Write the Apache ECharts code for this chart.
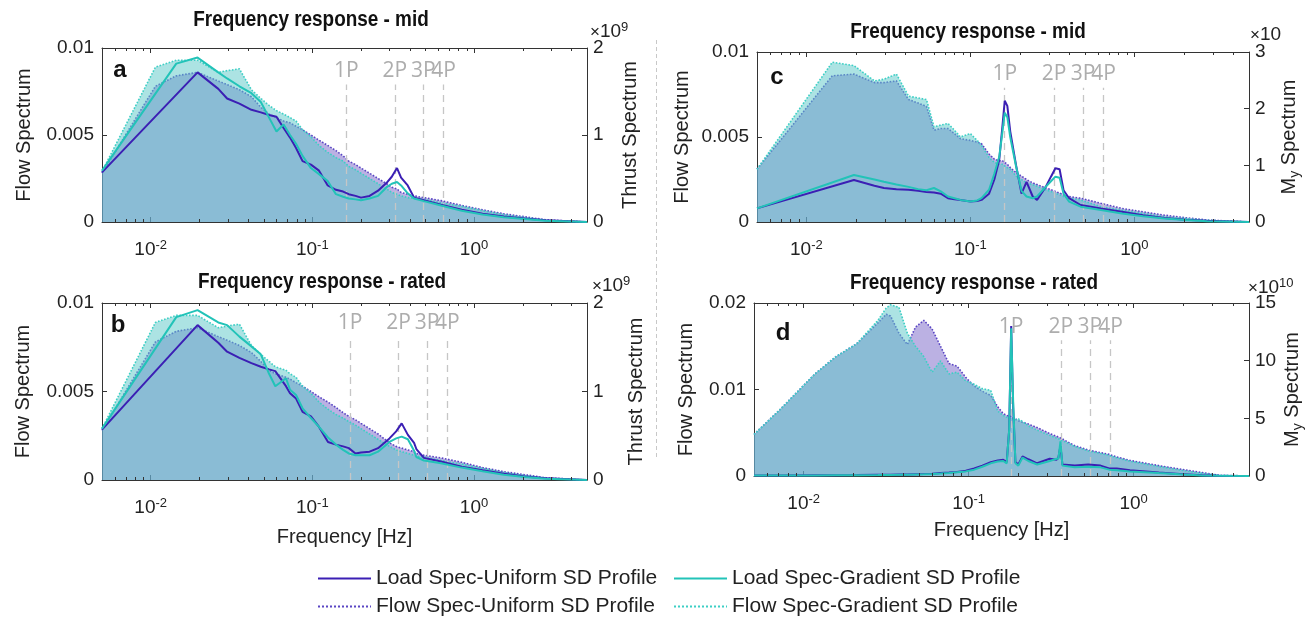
<!DOCTYPE html>
<html><head><meta charset="utf-8">
<script src="https://cdn.jsdelivr.net/npm/echarts@6/dist/echarts.min.js"></script>
<style>html,body{margin:0;padding:0;background:#fff}#c{width:1314px;height:620px}</style>
</head><body><div id="c"></div>
<script>
// ---------------- data ----------------
const FREQ_A = [0.005, 0.0107, 0.0144, 0.0195, 0.0262, 0.0297, 0.0354, 0.042, 0.048, 0.054, 0.06, 0.0664, 0.0728, 0.0793, 0.087, 0.098, 0.11, 0.1245, 0.14, 0.155, 0.168, 0.185, 0.2, 0.226, 0.255, 0.288, 0.31, 0.334, 0.354, 0.389, 0.426, 0.49, 0.625, 0.84, 1.13, 1.53, 2.06, 2.78, 5];
const A_LOAD_UNI  = [0.57, null, null, 1.72, 1.53, 1.42, 1.36, 1.29, 1.26, 1.23, 1.21, 1.08, 0.97, 0.85, 0.70, 0.66, 0.59, 0.42, 0.37, 0.35, 0.32, 0.30, 0.28, 0.30, 0.36, 0.45, 0.52, 0.62, 0.51, 0.42, 0.28, 0.25, 0.20, 0.14, 0.094, 0.064, 0.04, 0.02, 0];
const A_LOAD_GRAD = [0.59, null, 1.82, 1.89, 1.72, 1.65, 1.56, 1.48, 1.38, 1.2, 1.04, 1.12, 1.0, 0.90, 0.76, 0.62, 0.55, 0.47, 0.32, 0.29, 0.27, 0.26, 0.25, 0.27, 0.30, 0.40, 0.44, 0.46, 0.42, 0.33, 0.27, 0.24, 0.19, 0.13, 0.085, 0.055, 0.035, 0.015, 0];
const A_FLOW_UNI  = [0.0028, 0.0078, 0.0084, 0.0086, 0.0081, 0.0079, 0.0076, 0.0072, 0.0066, 0.0062, 0.0060, 0.0058, 0.0057, 0.0055, 0.0053, 0.0050, 0.0047, 0.0044, 0.0041, 0.0038, 0.0035, 0.0033, 0.0031, 0.0028, 0.0025, 0.0022, 0.0020, 0.0019, 0.0017, 0.0016, 0.0015, 0.0014, 0.00123, 0.00095, 0.0007, 0.00047, 0.0003, 0.00013, 0];
const A_FLOW_GRAD = [0.0029, 0.0089, 0.0093, 0.0093, 0.0086, 0.0087, 0.0088, 0.0076, 0.0071, 0.0067, 0.0064, 0.0062, 0.0060, 0.0058, 0.0053, 0.0049, 0.0044, 0.0040, 0.0037, 0.0035, 0.0032, 0.0030, 0.0028, 0.0025, 0.0022, 0.0019, 0.0017, 0.0016, 0.0015, 0.0014, 0.00135, 0.0013, 0.0011, 0.0009, 0.00065, 0.00042, 0.00025, 0.0001, 0];

const FREQ_B = [0.005, 0.0107, 0.0144, 0.0195, 0.0262, 0.0297, 0.0354, 0.042, 0.048, 0.054, 0.059, 0.0687, 0.0728, 0.0793, 0.087, 0.098, 0.11, 0.125, 0.14, 0.155, 0.168, 0.185, 0.2, 0.226, 0.255, 0.3, 0.33, 0.357, 0.39, 0.426, 0.44, 0.49, 0.625, 0.84, 1.13, 1.53, 2.06, 2.78, 5];
const B_LOAD_UNI  = [0.57, null, null, 1.75, 1.55, 1.45, 1.38, 1.32, 1.28, 1.25, 1.23, 1.06, 0.98, 0.92, 0.77, 0.72, 0.60, 0.43, 0.40, 0.38, 0.36, 0.30, 0.31, 0.32, 0.36, 0.47, 0.55, 0.64, 0.51, 0.42, 0.35, 0.25, 0.21, 0.15, 0.11, 0.07, 0.04, 0.02, 0];
const B_LOAD_GRAD = [0.58, null, 1.84, 1.92, 1.78, 1.75, 1.62, 1.51, 1.42, 1.2, 1.06, 1.15, 1.02, 0.96, 0.81, 0.70, 0.60, 0.48, 0.40, 0.34, 0.30, 0.28, 0.28, 0.28, 0.32, 0.43, 0.47, 0.49, 0.46, 0.33, 0.26, 0.22, 0.19, 0.14, 0.10, 0.06, 0.035, 0.015, 0];
const B_FLOW_UNI  = [0.0028, 0.0078, 0.0084, 0.0086, 0.0081, 0.0079, 0.0076, 0.0072, 0.0067, 0.0062, 0.0060, 0.0058, 0.0057, 0.0055, 0.0053, 0.0050, 0.0047, 0.0044, 0.0041, 0.0038, 0.0036, 0.0034, 0.0032, 0.0029, 0.0026, 0.0021, 0.0019, 0.0018, 0.0017, 0.0016, 0.0015, 0.0014, 0.00125, 0.001, 0.0007, 0.00047, 0.0003, 0.00013, 0];
const B_FLOW_GRAD = [0.0029, 0.0089, 0.0093, 0.0093, 0.0086, 0.0087, 0.0088, 0.0076, 0.0071, 0.0067, 0.0064, 0.0062, 0.0060, 0.0058, 0.0053, 0.0049, 0.0044, 0.0040, 0.0037, 0.0035, 0.0033, 0.0031, 0.0029, 0.0026, 0.0023, 0.0019, 0.0017, 0.0016, 0.0015, 0.0014, 0.00135, 0.0013, 0.0011, 0.0009, 0.00065, 0.00042, 0.00025, 0.0001, 0];

const FREQ_C = [0.005, 0.0144, 0.0195, 0.026, 0.0297, 0.0354, 0.042, 0.048, 0.054, 0.06, 0.066, 0.073, 0.08, 0.087, 0.1, 0.11, 0.117, 0.13, 0.14, 0.15, 0.157, 0.162, 0.168, 0.175, 0.19, 0.205, 0.22, 0.24, 0.255, 0.288, 0.31, 0.33, 0.35, 0.37, 0.4, 0.47, 0.625, 0.84, 1.13, 1.53, 2.06, 2.78, 5];
const C_LOAD_UNI  = [0.24, null, 0.74, 0.64, 0.60, 0.58, 0.57, 0.55, 0.53, 0.52, 0.50, 0.42, 0.40, 0.39, 0.36, 0.37, 0.39, 0.50, 0.75, 1.1, 1.7, 2.14, 2.05, 1.6, 1.0, 0.5, 0.71, 0.45, 0.39, 0.62, 0.80, 0.95, 0.93, 0.56, 0.42, 0.30, 0.24, 0.18, 0.12, 0.07, 0.04, 0.02, 0];
const C_LOAD_GRAD = [0.24, null, 0.83, 0.75, 0.71, 0.66, 0.62, 0.58, 0.56, 0.60, 0.54, 0.45, 0.42, 0.39, 0.36, 0.38, 0.42, 0.57, 0.85, 1.15, 1.6, 1.93, 1.85, 1.5, 0.98, 0.55, 0.45, 0.42, 0.45, 0.62, 0.72, 0.80, 0.78, 0.50, 0.36, 0.27, 0.21, 0.15, 0.10, 0.06, 0.035, 0.015, 0];
const C_FLOW_UNI  = [0.0031, 0.0086, 0.0087, 0.0082, 0.0082, 0.0083, 0.0072, 0.0070, 0.0068, 0.0054, 0.0055, 0.0055, 0.0052, 0.0049, 0.0048, 0.0047, 0.0046, 0.0040, 0.0037, 0.0036, 0.0036, 0.0035, 0.0034, 0.0032, 0.0029, 0.0027, 0.0025, 0.0023, 0.0022, 0.0020, 0.0019, 0.0018, 0.0017, 0.0016, 0.0015, 0.0014, 0.0011, 0.0008, 0.0006, 0.0004, 0.00025, 0.00012, 0];
const C_FLOW_GRAD = [0.0031, 0.0094, 0.0092, 0.0083, 0.0084, 0.0087, 0.0074, 0.0073, 0.0072, 0.0056, 0.0057, 0.0058, 0.0054, 0.0050, 0.0052, 0.0048, 0.0045, 0.0038, 0.0035, 0.0034, 0.0034, 0.0033, 0.0032, 0.0031, 0.0027, 0.0025, 0.0023, 0.0022, 0.0021, 0.0019, 0.0018, 0.0017, 0.0016, 0.0015, 0.0014, 0.0013, 0.0009, 0.0007, 0.0005, 0.0003, 0.0002, 0.0001, 0];

const FREQ_D = [0.005, 0.0073, 0.0117, 0.0157, 0.021, 0.0282, 0.0316, 0.0336, 0.0378, 0.0425, 0.0476, 0.0535, 0.06, 0.0675, 0.076, 0.085, 0.096, 0.108, 0.121, 0.136, 0.15, 0.162, 0.17, 0.176, 0.181, 0.186, 0.192, 0.2, 0.212, 0.23, 0.26, 0.31, 0.34, 0.35, 0.36, 0.37, 0.44, 0.53, 0.63, 0.71, 0.79, 0.95, 1.42, 1.9, 2.6, 3.25, 5];
const D_LOAD_UNI  = [0.05, 0.05, 0.06, 0.07, 0.08, 0.1, 0.1, 0.1, 0.12, 0.13, 0.15, 0.17, 0.2, 0.25, 0.3, 0.35, 0.45, 0.65, 0.9, 1.2, 1.35, 1.4, 1.2, 4.0, 13.0, 6.0, 1.2, 1.0, 1.7, 1.45, 1.1, 1.5, 1.4, 1.6, 2.6, 1.0, 0.9, 1.0, 0.9, 0.65, 0.65, 0.5, 0.3, 0.18, 0.06, 0.02, 0];
const D_LOAD_GRAD = [0.04, 0.04, 0.05, 0.06, 0.07, 0.08, 0.09, 0.09, 0.1, 0.11, 0.13, 0.15, 0.18, 0.22, 0.27, 0.32, 0.4, 0.55, 0.8, 1.1, 1.25, 1.3, 1.1, 4.0, 12.8, 6.5, 1.1, 0.9, 1.6, 1.3, 1.0, 1.3, 1.5, 1.5, 3.0, 0.9, 0.75, 0.8, 0.75, 0.55, 0.5, 0.4, 0.25, 0.15, 0.05, 0.02, 0];
const D_FLOW_UNI  = [0.0048, 0.0078, 0.0118, 0.0138, 0.0153, 0.0177, 0.0187, 0.0185, 0.0165, 0.0152, 0.0172, 0.0180, 0.0170, 0.0150, 0.0130, 0.0127, 0.0114, 0.0104, 0.0098, 0.0093, 0.0080, 0.0072, 0.0070, 0.0069, 0.0069, 0.0068, 0.0066, 0.0064, 0.0062, 0.0060, 0.0056, 0.0049, 0.0046, 0.0045, 0.0044, 0.0043, 0.0035, 0.0030, 0.0027, 0.0025, 0.0022, 0.0018, 0.0012, 0.0008, 0.0004, 0.0001, 0];
const D_FLOW_GRAD = [0.0048, 0.0078, 0.0118, 0.0138, 0.0153, 0.0180, 0.0194, 0.0198, 0.0195, 0.0165, 0.0150, 0.0138, 0.0120, 0.0133, 0.0118, 0.0120, 0.0110, 0.0106, 0.0101, 0.0099, 0.0075, 0.0070, 0.0068, 0.0067, 0.0067, 0.0066, 0.0065, 0.0066, 0.0063, 0.0058, 0.0053, 0.0047, 0.0044, 0.0043, 0.0042, 0.0041, 0.0034, 0.0029, 0.0026, 0.0024, 0.0021, 0.0017, 0.0011, 0.0007, 0.0003, 0.0001, 0];

// rotor harmonics (Hz) and their labels
const P_LABELS = ['1P', '2P', '3P', '4P'];
const P_A = [0.162, 0.324, 0.486, 0.648];
const P_B = [0.171, 0.342, 0.513, 0.684];
const P_C = [0.162, 0.324, 0.486, 0.648];
const P_D = [0.181, 0.362, 0.543, 0.724];

const MINOR_TICKS = [0.006, 0.007, 0.008, 0.009, 0.02, 0.03, 0.04, 0.05, 0.06, 0.07, 0.08, 0.09, 0.2, 0.3, 0.4, 0.5, 0.6, 0.7, 0.8, 0.9, 2, 3, 4];

const N_LU = 'Load Spec-Uniform SD Profile';
const N_LG = 'Load Spec-Gradient SD Profile';
const N_FU = 'Flow Spec-Uniform SD Profile';
const N_FG = 'Flow Spec-Gradient SD Profile';

// ---------------- styling ----------------
const FONT = '"Liberation Sans", Arial, Helvetica, sans-serif';
const COL = {
  lu: '#3b1fb4', lg: '#22c3b8',
  fuLine: '#5a46c4', fgLine: '#3dcfc5',
  fuArea: 'rgba(120,100,200,0.5)', fgArea: 'rgba(90,200,200,0.5)'
};
const AX = '#333';
const TXT = '#222';

const panels = [
  {rect: {left: 102, top: 48, width: 485, height: 174}, F: FREQ_A, lu: A_LOAD_UNI, lg: A_LOAD_GRAD, fu: A_FLOW_UNI, fg: A_FLOW_GRAD,
   lMax: 0.01, lInt: 0.005, rMax: 2, rInt: 1, rName: 'Thrust Spectrum', P: P_A, pTop: 0.0079, lGap: 68, rGap: 33, xName: '', xGap: 44},
  {rect: {left: 102, top: 303, width: 485, height: 177}, F: FREQ_B, lu: B_LOAD_UNI, lg: B_LOAD_GRAD, fu: B_FLOW_UNI, fg: B_FLOW_GRAD,
   lMax: 0.01, lInt: 0.005, rMax: 2, rInt: 1, rName: 'Thrust Spectrum', P: P_B, pTop: 0.0081, lGap: 69, rGap: 39, xName: 'Frequency [Hz]', xGap: 47},
  {rect: {left: 757, top: 52, width: 492, height: 170}, F: FREQ_C, lu: C_LOAD_UNI, lg: C_LOAD_GRAD, fu: C_FLOW_UNI, fg: C_FLOW_GRAD,
   lMax: 0.01, lInt: 0.005, rMax: 3, rInt: 1, rName: '{m|M}{sub|y}{m| Spectrum}', P: P_C, pTop: 0.0079, lGap: 65, rGap: 27, xName: '', xGap: 44},
  {rect: {left: 754, top: 303, width: 495, height: 173}, F: FREQ_D, lu: D_LOAD_UNI, lg: D_LOAD_GRAD, fu: D_FLOW_UNI, fg: D_FLOW_GRAD,
   lMax: 0.02, lInt: 0.01, rMax: 15, rInt: 5, rName: '{m|M}{sub|y}{m| Spectrum}', P: P_D, pTop: 0.0157, lGap: 58, rGap: 30, xName: 'Frequency [Hz]', xGap: 44}
];

const RICH_TICK = {
  b: {fontSize: 19, fontFamily: FONT, color: TXT},
  s: {fontSize: 13, fontFamily: FONT, color: TXT, padding: [0, 0, 9, 0]}
};
function logLabel(v) {
  const e = Math.log10(v);
  const r = Math.round(e);
  if (Math.abs(e - r) > 1e-6) return '';
  return '{b|10}{s|' + r + '}';
}
const pairs = (F, V) => F.map((f, k) => [f, V[k]]);

const grid = [], xAxis = [], yAxis = [], series = [];
panels.forEach((p, i) => {
  grid.push(Object.assign({containLabel: false}, p.rect));
  const axisLine = {show: true, onZero: false, lineStyle: {color: AX, width: 1}};
  const tick = {show: true, inside: true, length: 5, lineStyle: {color: AX, width: 1}};
  xAxis.push({
    type: 'log', logBase: 10, gridIndex: i, position: 'bottom', min: 0.005, max: 5,
    axisLine, axisTick: tick, splitLine: {show: false},
    axisLabel: {show: true, margin: 17, formatter: logLabel, rich: RICH_TICK, color: TXT},
    name: p.xName, nameLocation: 'middle', nameGap: p.xGap,
    nameTextStyle: {fontSize: 20, fontFamily: FONT, color: TXT}
  });
  xAxis.push({
    type: 'log', logBase: 10, gridIndex: i, position: 'top', min: 0.005, max: 5,
    axisLine, axisTick: tick, splitLine: {show: false}, axisLabel: {show: false}
  });
  yAxis.push({
    type: 'value', gridIndex: i, position: 'left', min: 0, max: p.lMax, interval: p.lInt,
    axisLine, axisTick: tick, splitLine: {show: false},
    axisLabel: {fontSize: 19, fontFamily: FONT, color: TXT, margin: 8},
    name: 'Flow Spectrum', nameLocation: 'middle', nameGap: p.lGap, nameRotate: 90,
    nameTextStyle: {fontSize: 20, fontFamily: FONT, color: TXT}
  });
  yAxis.push({
    type: 'value', gridIndex: i, position: 'right', min: 0, max: p.rMax, interval: p.rInt,
    axisLine, axisTick: tick, splitLine: {show: false},
    axisLabel: {fontSize: 19, fontFamily: FONT, color: TXT, margin: 6},
    name: p.rName, nameLocation: 'middle', nameGap: p.rGap, nameRotate: 90,
    nameTextStyle: {fontSize: 20, fontFamily: FONT, color: TXT,
      rich: {m: {fontSize: 20, fontFamily: FONT, color: TXT}, sub: {fontSize: 14, fontFamily: FONT, color: TXT, padding: [12, 0, 0, 0]}}}
  });
  const xi = 2 * i;
  series.push({
    name: N_FU, type: 'line', xAxisIndex: xi, yAxisIndex: 2 * i, data: pairs(p.F, p.fu), connectNulls: true,
    symbol: 'none', lineStyle: {type: 'dotted', width: 1.6, color: COL.fuLine}, itemStyle: {color: COL.fuLine},
    areaStyle: {color: COL.fuArea, opacity: 1}, z: 2,
    markLine: {
      silent: true, symbol: ['none', 'none'], animation: false,
      lineStyle: {type: [7, 5], color: '#c6c6c6', width: 1.3},
      label: {show: true, position: 'end', formatter: '{b}', color: '#adadad', fontSize: 21, fontFamily: '"Open Sans", sans-serif', distance: 3},
      emphasis: {disabled: true},
      data: p.P.map((v, k) => [{coord: [v, 0], name: P_LABELS[k]}, {coord: [v, p.pTop]}])
    }
  });
  series.push({
    name: N_FG, type: 'line', xAxisIndex: xi, yAxisIndex: 2 * i, data: pairs(p.F, p.fg), connectNulls: true,
    symbol: 'none', lineStyle: {type: 'dotted', width: 1.6, color: COL.fgLine}, itemStyle: {color: COL.fgLine},
    areaStyle: {color: COL.fgArea, opacity: 1}, z: 3
  });
  series.push({
    name: N_LU, type: 'line', xAxisIndex: xi, yAxisIndex: 2 * i + 1, data: pairs(p.F, p.lu), connectNulls: true,
    symbol: 'none', lineStyle: {width: 2, color: COL.lu}, itemStyle: {color: COL.lu}, z: 5
  });
  series.push({
    name: N_LG, type: 'line', xAxisIndex: xi, yAxisIndex: 2 * i + 1, data: pairs(p.F, p.lg), connectNulls: true,
    symbol: 'none', lineStyle: {width: 2, color: COL.lg}, itemStyle: {color: COL.lg}, z: 6
  });
  series.push({
    type: 'custom', xAxisIndex: xi, yAxisIndex: 2 * i, silent: true, z: 10, clip: false,
    data: MINOR_TICKS.map(v => [v, 0]),
    renderItem: (params, api) => {
      const x = Math.round(api.coord([api.value(0), 0])[0]) + 0.5;
      const cs = params.coordSys;
      const st = {stroke: AX, lineWidth: 1};
      return {type: 'group', children: [
        {type: 'line', shape: {x1: x, y1: cs.y + cs.height, x2: x, y2: cs.y + cs.height - 3}, style: st},
        {type: 'line', shape: {x1: x, y1: cs.y, x2: x, y2: cs.y + 3}, style: st}
      ]};
    }
  });
});

function txt(x, y, text, size, weight, align, extra) {
  return Object.assign({type: 'text', x, y, z: 100, silent: true,
    style: {text, fontSize: size, fontWeight: weight, fontFamily: FONT, fill: '#111',
      align: align, textAlign: align, verticalAlign: 'middle', textVerticalAlign: 'middle'}}, extra || {});
}
function title(x, y, text) {
  return txt(x, y, text, 22, 'bold', 'center', {scaleX: 0.86});
}
function expo(x, y, sup) {
  const t = txt(x, y, sup ? '{x|×}{b|10}{s|' + sup + '}' : '{x|×}{b|10}', 19, 'normal', 'left');
  t.style.rich = {
    x: {fontSize: 17, fontFamily: FONT, fill: TXT, color: TXT},
    b: {fontSize: 19, fontFamily: FONT, fill: TXT, color: TXT},
    s: {fontSize: 13, fontFamily: FONT, fill: TXT, color: TXT, padding: [0, 0, 9, 0]}
  };
  return t;
}

const graphic = [
  title(311, 20, 'Frequency response - mid'),
  title(322, 282, 'Frequency response - rated'),
  title(968, 32, 'Frequency response - mid'),
  title(974, 283, 'Frequency response - rated'),
  txt(120, 70, 'a', 24, 'bold', 'center'),
  txt(118, 325, 'b', 24, 'bold', 'center'),
  txt(777, 77, 'c', 24, 'bold', 'center'),
  txt(783, 333, 'd', 24, 'bold', 'center'),
  expo(590, 32, '9'),
  expo(592, 286, '9'),
  expo(1250, 35, ''),
  expo(1248, 288, '10'),
  {type: 'line', z: 1, silent: true, shape: {x1: 656.5, y1: 40, x2: 656.5, y2: 458},
   style: {stroke: '#c8c8c8', lineWidth: 1, lineDash: [4, 3]}}
];

const legendBase = {
  orient: 'vertical', padding: 0, itemGap: 7, itemWidth: 53, itemHeight: 14, top: 568,
  selectedMode: false, itemStyle: {opacity: 0, borderWidth: 0},
  textStyle: {fontSize: 21, fontFamily: FONT, color: TXT}
};

const option = {
  backgroundColor: '#fff',
  animation: false,
  grid, xAxis, yAxis, series, graphic,
  legend: [
    Object.assign({}, legendBase, {left: 317, data: [N_LU, N_FU]}),
    Object.assign({}, legendBase, {left: 673, data: [N_LG, N_FG]})
  ]
};

const chart = echarts.init(document.getElementById('c'), null, {renderer: 'canvas', width: 1314, height: 620});
chart.setOption(option);
</script></body></html>
